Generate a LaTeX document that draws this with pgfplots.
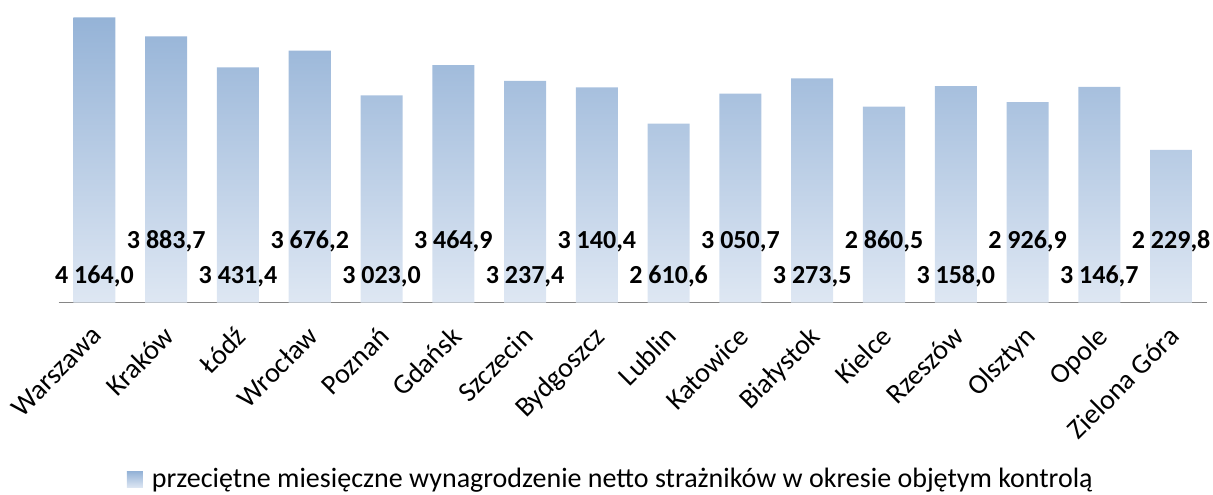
\documentclass[border=0pt]{standalone}
\usepackage{fontspec}
\setmainfont{Carlito}
\usepackage{pgfplots}
\pgfplotsset{compat=1.18}
\usepackage{pgfplotstable}
\definecolor{bartop}{RGB}{149,179,215}
\definecolor{barbottom}{RGB}{222,231,243}
\definecolor{axisgray}{RGB}{134,134,134}

% i: category index, v: salary (net), ly: height of the label baseline
\pgfplotstableread{
i v ly
0 4164.0 280
1 3883.7 791
2 3431.4 280
3 3676.2 791
4 3023.0 280
5 3464.9 791
6 3237.4 280
7 3140.4 791
8 2610.6 280
9 3050.7 791
10 3273.5 280
11 2860.5 791
12 3158.0 280
13 2926.9 791
14 3146.7 280
15 2229.8 791
}\salaries

\begin{document}
\begin{tikzpicture}
\begin{axis}[
  scale only axis,
  width=574pt, height=151.25pt,
  xmin=-0.5, xmax=15.5,
  ymin=0, ymax=4416,
  clip=false,
  axis x line*=bottom,
  axis y line=none,
  x axis line style={color=axisgray, line width=0.75pt},
  xtick={0,...,15},
  xticklabels={Warszawa,Kraków,Łódź,Wrocław,Poznań,Gdańsk,Szczecin,Bydgoszcz,
    Lublin,Katowice,Białystok,Kielce,Rzeszów,Olsztyn,Opole,Zielona Góra},
  major tick length=0pt,
  ytick=\empty,
  xticklabel style={xshift=-2pt, yshift=-10.75pt, rotate=45,
    anchor=north east, inner sep=0pt, font=\fontsize{14}{16}\selectfont},
  legend style={at={(0.4817,0)}, anchor=center, yshift=-88.5pt,
    draw=none, fill=none, font=\fontsize{14}{16}\selectfont,
    legend cell align=left},
  legend image code/.code={
    \fill[top color=bartop, bottom color=barbottom]
      (0pt,-4pt) rectangle (8pt,4pt);
    \path (10.5pt,0pt);
  },
]
\addplot[ybar, bar width=21pt, bar shift=0pt, draw=none,
  top color=bartop, bottom color=barbottom]
  table[x=i, y=v] {\salaries};
\addlegendentry{przeciętne miesięczne wynagrodzenie netto strażników w okresie objętym kontrolą}

\addplot[draw=none, mark=none, forget plot,
  point meta=explicit,
  nodes near coords={\pgfmathprintnumber[fixed, fixed zerofill, precision=1,
    use comma, 1000 sep={\ }, assume math mode=true]{\pgfplotspointmeta}},
  every node near coord/.style={anchor=base, inner sep=0pt,
    font=\fontsize{13}{15}\selectfont\bfseries, text=black}]
  table[x=i, y=ly, meta=v] {\salaries};

\coordinate (bl) at (rel axis cs:0,0);
\coordinate (tr) at (rel axis cs:1,1);
\end{axis}
\pgfresetboundingbox
\path ([shift={(-29.25pt,-95.75pt)}]bl) rectangle ([shift={(3pt,0pt)}]tr);
\end{tikzpicture}
\end{document}
